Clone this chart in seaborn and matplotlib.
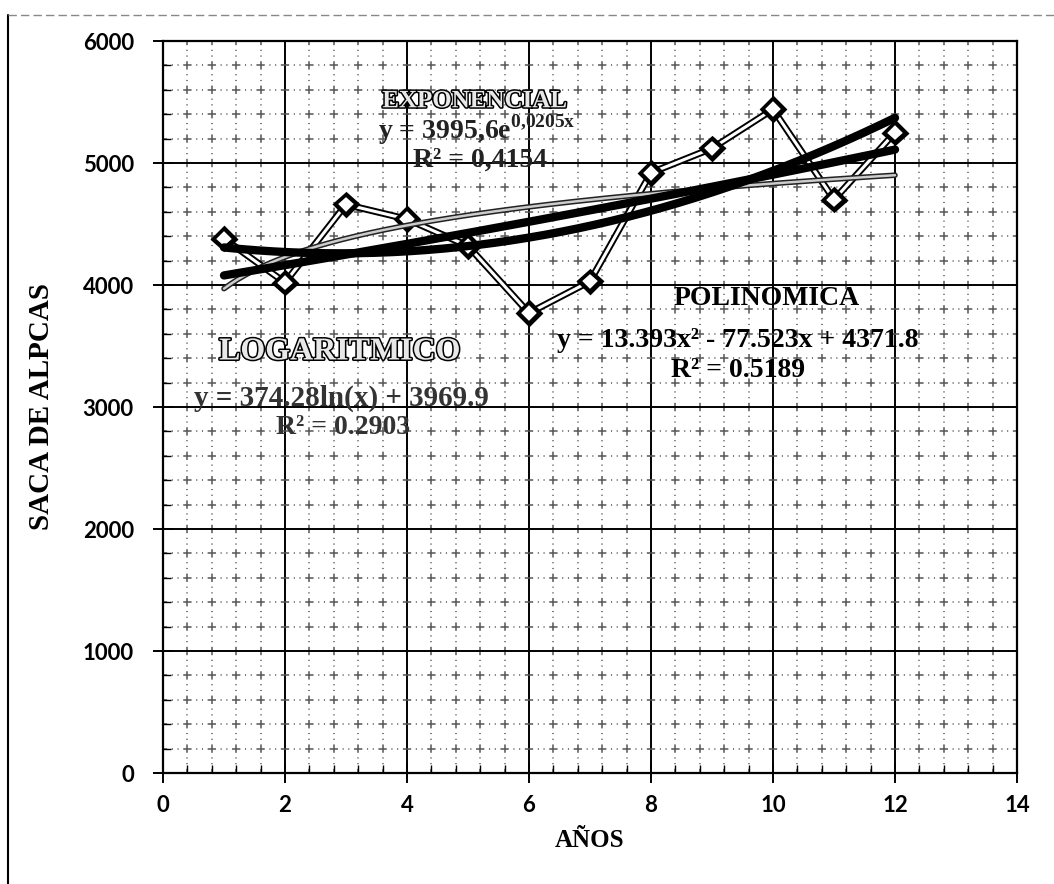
import numpy as np
import pandas as pd
import matplotlib
matplotlib.use("Agg")
import matplotlib.pyplot as plt
import matplotlib.patheffects as pe
from matplotlib.lines import Line2D
from matplotlib.ticker import MultipleLocator
import seaborn as sns

# datos
anios = [1, 2, 3, 4, 5, 6, 7, 8, 9, 10, 11, 12]
saca = [4380, 4020, 4660, 4540, 4320, 3770, 4030, 4920, 5120, 5440, 4700, 5250]

# coeficientes de las lineas de tendencia (como aparecen en el grafico)
poli_a, poli_b, poli_c = 13.393, -77.523, 4371.8
exp_a, exp_b = 3995.6, 0.0205
log_a, log_b = 374.28, 3969.9

sns.set_theme(style="white")
plt.rcParams["lines.scale_dashes"] = False
plt.rcParams["mathtext.fontset"] = "custom"
plt.rcParams["mathtext.rm"] = "Liberation Serif"
plt.rcParams["mathtext.bf"] = "Liberation Serif:bold"
serif = ["Liberation Serif", "DejaVu Serif"]
sans = ["Lato", "DejaVu Sans"]

df = pd.DataFrame({"anio": anios, "saca": saca})
xt = np.linspace(min(anios), max(anios), 200)
tend = pd.DataFrame({
    "x": xt,
    "poli": poli_a * xt ** 2 + poli_b * xt + poli_c,
    "exp": exp_a * np.exp(exp_b * xt),
    "log": log_a * np.log(xt) + log_b,
})

fig = plt.figure(figsize=(10.54, 8.84), dpi=100)
ax = fig.add_axes([163 / 1054, 1 - 773 / 884, 854 / 1054, 732 / 884])
ax.set_xlim(0, 14)
ax.set_ylim(0, 6000)

# rejilla: lineas menores punteadas con cruces en las intersecciones
ax.xaxis.set_major_locator(MultipleLocator(2))
ax.xaxis.set_minor_locator(MultipleLocator(0.4))
ax.yaxis.set_major_locator(MultipleLocator(1000))
ax.yaxis.set_minor_locator(MultipleLocator(200))
step_pt = 0.4 / 14 * 854 * 72 / 100
on = 6.0
gap = (step_pt - on - 2 * 0.8) / 3
ax.grid(which="major", color="black", linewidth=1.4)
ax.grid(which="minor", color="#555555", linewidth=1.1,
        linestyle=(on / 2, (on, gap, 0.8, gap, 0.8, gap)))
ax.set_axisbelow(True)

# serie de datos
halo = [pe.Stroke(linewidth=5, foreground="black"), pe.Normal()]
sns.lineplot(data=df, x="anio", y="saca", ax=ax, color="white", linewidth=2.2,
             marker="D", markersize=9, markerfacecolor="white",
             markeredgecolor="black", markeredgewidth=1.2, path_effects=halo,
             zorder=3)

# tendencias
sns.lineplot(data=tend, x="x", y="log", ax=ax, color="#cccccc", linewidth=1.8,
             path_effects=[pe.Stroke(linewidth=4, foreground="#222222"), pe.Normal()],
             zorder=4)
sns.lineplot(data=tend, x="x", y="exp", ax=ax, color="black", linewidth=6, zorder=5)
sns.lineplot(data=tend, x="x", y="poli", ax=ax, color="black", linewidth=6, zorder=5)

for s in ax.spines.values():
    s.set_color("black")
    s.set_linewidth(1.6)

ax.tick_params(which="major", direction="inout", length=14, width=1.4,
               color="black", bottom=True, left=True)
ax.tick_params(axis="x", which="major", pad=9)
ax.tick_params(axis="y", which="major", pad=14)
ax.tick_params(which="minor", direction="in", length=6, width=1,
               color="black", bottom=True, left=True)
for lab in ax.get_xticklabels() + ax.get_yticklabels():
    lab.set_fontfamily(sans)
    lab.set_fontweight("bold")
    lab.set_fontsize(16)
    lab.set_color("black")

ax.set_xlabel("AÑOS", fontfamily=serif, fontweight="bold", fontsize=18,
              color="black", labelpad=9)
ax.set_ylabel("SACA DE ALPCAS", fontfamily=serif, fontweight="bold", fontsize=21,
              color="black", labelpad=20)

# etiquetas de ecuaciones
hollow = [pe.Stroke(linewidth=2.2, foreground="black"), pe.Normal()]
tk = dict(ha="center", va="center", fontfamily=serif, fontweight="bold", zorder=6)
ax.text(5.11, 5510, "EXPONENCIAL", fontsize=18, color="#e8e8e8",
        path_effects=hollow, **tk)
ax.text(5.15, 5275, r"y = 3995,6e$^{\mathbf{0{,}0205x}}$", fontsize=20,
        color="#222222", **tk)
ax.text(5.2, 5025, "R² = 0,4154", fontsize=20, color="#222222", **tk)

ax.text(9.89, 3893, "POLINOMICA", fontsize=20, color="black", **tk)
ax.text(9.43, 3549, "y = 13.393x² - 77.523x + 4371.8", fontsize=20,
        color="black", **tk)
ax.text(9.43, 3303, "R² = 0.5189", fontsize=20, color="black", **tk)

ax.text(2.9, 3451, "LOGARITMICO", fontsize=23, color="#e8e8e8",
        path_effects=hollow, **tk)
ax.text(2.93, 3074, "y = 374.28ln(x) + 3969.9", fontsize=21, color="#333333",
        **tk)
ax.text(2.95, 2828, "R² = 0.2903", fontsize=20, color="#333333", **tk)

# marco de la figura
fig.add_artist(Line2D([8 / 1054, 8 / 1054], [0, 1 - 15 / 884],
                      transform=fig.transFigure, color="black", linewidth=1.5))
fig.add_artist(Line2D([8 / 1054, 1], [1 - 15 / 884, 1 - 15 / 884],
                      transform=fig.transFigure, color="#888888", linewidth=1,
                      linestyle=(0, (6, 3))))

fig.savefig("out.png", dpi=100)
